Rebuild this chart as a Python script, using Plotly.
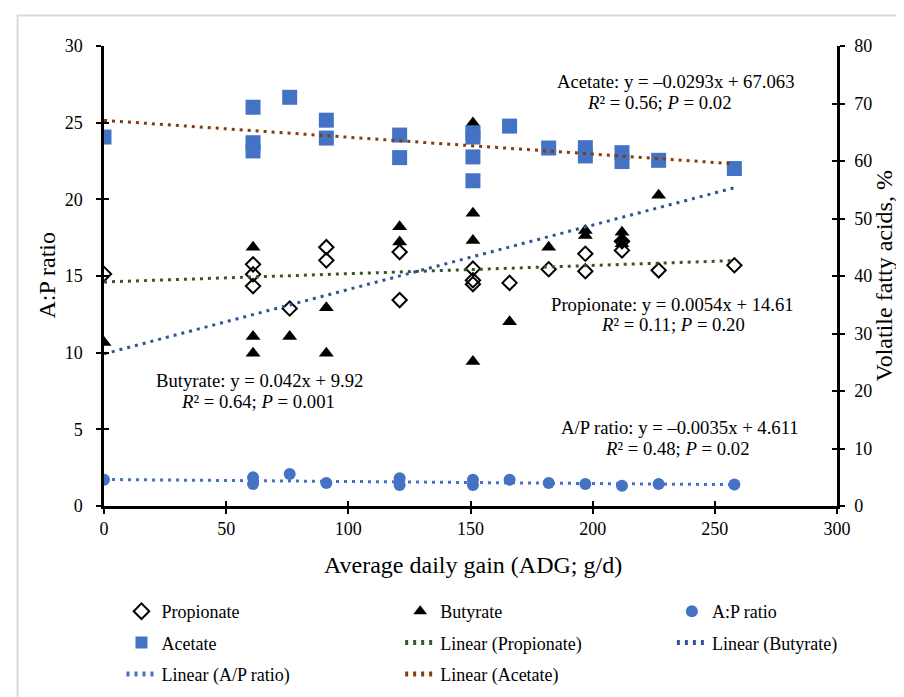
import plotly.graph_objects as go

# ---------------- data ----------------
prop_x = [0, 61, 61, 61, 76, 91, 91, 121, 121, 151, 151, 151, 166, 182, 197, 197, 212, 212, 227, 258]
prop_y = [15.13, 15.76, 15.11, 14.34, 12.88, 16.88, 16.02, 16.56, 13.43, 15.48, 14.72, 14.47,
          14.55, 15.44, 16.45, 15.31, 17.27, 16.67, 15.37, 15.70]

but_x = [0, 61, 61, 61, 76, 91, 91, 121, 121, 151, 151, 151, 151, 166, 182, 197, 197, 212, 212, 212, 227]
but_y = [10.66, 16.88, 11.05, 9.97, 11.05, 12.93, 9.97, 18.22, 17.21, 24.98, 19.09, 17.32, 9.43,
         12.02, 16.88, 17.97, 17.64, 17.85, 17.42, 17.10, 20.27]

ac_x = [0, 61, 61, 61, 76, 91, 91, 121, 121, 151, 151, 151, 151, 166, 182, 197, 197, 212, 212, 227, 258]
ac_y = [64.17, 69.35, 63.18, 61.75, 71.08, 67.10, 63.99, 64.51, 60.59, 64.91, 64.17, 60.71, 56.56,
        66.07, 62.26, 62.32, 60.88, 61.45, 59.90, 60.12, 58.69]

ap_x = [0, 61, 61, 76, 91, 121, 121, 151, 151, 166, 182, 197, 212, 227, 258]
ap_y = [4.58, 4.98, 3.84, 5.57, 4.01, 4.81, 3.66, 4.58, 3.66, 4.58, 4.01, 3.84, 3.54, 3.84, 3.72]

# published trendline coefficients (slope, intercept)
trend_prop = (0.0054, 14.61)
trend_but = (0.042, 9.92)
trend_ap = (-0.0035, 4.611)
trend_ac = (-0.0293, 67.063)
trend_x = [0, 258]

x_ticks = [0, 50, 100, 150, 200, 250, 300]
y_ticks = [0, 5, 10, 15, 20, 25, 30]
y2_ticks = [0, 10, 20, 30, 40, 50, 60, 70, 80]

# ---------------- style ----------------
FONT = "Liberation Serif, Times New Roman, serif"
BLUE = "#4472C4"
W, H = 904, 697
L, R, T, B = 95.5, 829.3, 37.7, 500.5


def paper(px, py):
    return (px - L) / (R - L), (B - py) / (B - T)


def line_y(coef):
    return [coef[0] * x + coef[1] for x in trend_x]


fig = go.Figure()

DOT = "3px,5px"
fig.add_trace(go.Scatter(x=prop_x, y=prop_y, mode="markers", name="Propionate", legend="legend", legendgroup="a",
                         marker=dict(symbol="diamond-open", size=11, color="black", line=dict(width=2, color="black"))))
fig.add_trace(go.Scatter(x=but_x, y=but_y, mode="markers", name="Butyrate", legend="legend2", legendgroup="b",
                         marker=dict(symbol="triangle-up", size=13, color="black")))
fig.add_trace(go.Scatter(x=ap_x, y=ap_y, mode="markers", name="A:P ratio", yaxis="y2", legend="legend3",
                         legendgroup="c", marker=dict(symbol="circle", size=12, color=BLUE)))
fig.add_trace(go.Scatter(x=ac_x, y=ac_y, mode="markers", name="Acetate", yaxis="y2", legend="legend",
                         legendgroup="d", marker=dict(symbol="square", size=15, color=BLUE)))
fig.add_trace(go.Scatter(x=trend_x, y=line_y(trend_prop), mode="lines", name="Linear (Propionate)", legend="legend2",
                         legendgroup="e", line=dict(color="#385723", width=3, dash=DOT)))
fig.add_trace(go.Scatter(x=trend_x, y=line_y(trend_but), mode="lines", name="Linear (Butyrate)", legend="legend3",
                         legendgroup="f", line=dict(color="#2F5597", width=3, dash=DOT)))
fig.add_trace(go.Scatter(x=trend_x, y=line_y(trend_ap), mode="lines", name="Linear (A/P ratio)", yaxis="y2",
                         legend="legend", legendgroup="g", line=dict(color=BLUE, width=3, dash=DOT)))
fig.add_trace(go.Scatter(x=trend_x, y=line_y(trend_ac), mode="lines", name="Linear (Acetate)", yaxis="y2",
                         legend="legend2", legendgroup="h", line=dict(color="#843C0C", width=3, dash=DOT)))

# empty helper traces so the inner-tick overlay axes get drawn
fig.add_trace(go.Scatter(x=[None], y=[None], xaxis="x2", yaxis="y", showlegend=False, hoverinfo="skip"))
fig.add_trace(go.Scatter(x=[None], y=[None], xaxis="x", yaxis="y3", showlegend=False, hoverinfo="skip"))
fig.add_trace(go.Scatter(x=[None], y=[None], xaxis="x", yaxis="y4", showlegend=False, hoverinfo="skip"))

axis_common = dict(showline=True, linecolor="black", linewidth=2.5, ticks="outside", ticklen=5,
                   tickwidth=2, tickcolor="black", showgrid=False, zeroline=False,
                   tickfont=dict(family=FONT, size=18, color="black"))
inner = dict(showline=False, ticks="inside", ticklen=5, tickwidth=2, tickcolor="black",
             showgrid=False, zeroline=False, showticklabels=False)

fig.update_layout(
    width=W, height=H,
    margin=dict(l=L, r=W - R, t=T, b=H - B),
    paper_bgcolor="white", plot_bgcolor="white",
    font=dict(family=FONT, color="black"),
    xaxis=dict(range=[0, 300], tickvals=x_ticks, **axis_common),
    yaxis=dict(range=[0, 30], tickvals=y_ticks, ticklabelstandoff=10, **axis_common),
    yaxis2=dict(range=[0, 80], tickvals=y2_ticks, overlaying="y", side="right", anchor="x",
                ticklabelstandoff=6, **axis_common),
    xaxis2=dict(range=[0, 300], tickvals=x_ticks, overlaying="x", side="bottom", anchor="y", **inner),
    yaxis3=dict(range=[0, 30], tickvals=y_ticks, overlaying="y", side="left", anchor="x", **inner),
    yaxis4=dict(range=[0, 80], tickvals=y2_ticks, overlaying="y", side="right", anchor="x", **inner),
    showlegend=True,
)

leg_common = dict(orientation="v", xanchor="left", yanchor="top", tracegroupgap=5, traceorder="grouped",
                  font=dict(family=FONT, size=18, color="black"), bgcolor="rgba(0,0,0,0)",
                  itemsizing="constant")
ly = paper(0, 588)[1]
fig.update_layout(
    legend=dict(x=paper(113, 0)[0], y=ly, **leg_common),
    legend2=dict(x=paper(392, 0)[0], y=ly, **leg_common),
    legend3=dict(x=paper(664, 0)[0], y=ly, **leg_common),
)

annos = [
    ("Acetate: y = \u20130.0293x + 67.063", 668, 73),
    ("<i>R</i>\u00b2 = 0.56; <i>P</i> = 0.02", 652, 95),
    ("Propionate: y = 0.0054x + 14.61", 665, 298),
    ("<i>R</i>\u00b2 = 0.11; <i>P</i> = 0.20", 665, 318),
    ("Butyrate: y = 0.042x + 9.92", 251, 374),
    ("<i>R</i>\u00b2 = 0.64; <i>P</i> = 0.001", 250, 395),
    ("A/P ratio: y = \u20130.0035x + 4.611", 672, 422),
    ("<i>R</i>\u00b2 = 0.48; <i>P</i> = 0.02", 670, 443),
]
for text, px, py in annos:
    ax, ay = paper(px, py)
    fig.add_annotation(text=text, x=ax, y=ay, xref="paper", yref="paper", showarrow=False,
                       xanchor="center", yanchor="middle", font=dict(family=FONT, size=18.7, color="black"))

# axis titles
tx, ty = paper(465, 560)
fig.add_annotation(text="Average daily gain (ADG; g/d)", x=tx, y=ty, xref="paper", yref="paper",
                   showarrow=False, xanchor="center", yanchor="middle", font=dict(family=FONT, size=24))
tx, ty = paper(38, 269)
fig.add_annotation(text="A:P ratio", x=tx, y=ty, xref="paper", yref="paper", textangle=-90,
                   showarrow=False, xanchor="center", yanchor="middle", font=dict(family=FONT, size=24))
tx, ty = paper(876, 269)
fig.add_annotation(text="Volatile fatty acids, %", x=tx, y=ty, xref="paper", yref="paper", textangle=-90,
                   showarrow=False, xanchor="center", yanchor="middle", font=dict(family=FONT, size=24))

# chart frame
x0, y1 = paper(9, 7)
x1, y0 = paper(920, 720)
fig.add_shape(type="rect", xref="paper", yref="paper", x0=x0, x1=x1, y0=y0, y1=y1,
              line=dict(color="#D9D9D9", width=2), fillcolor="rgba(0,0,0,0)", layer="below")

fig.write_html("out.html")
